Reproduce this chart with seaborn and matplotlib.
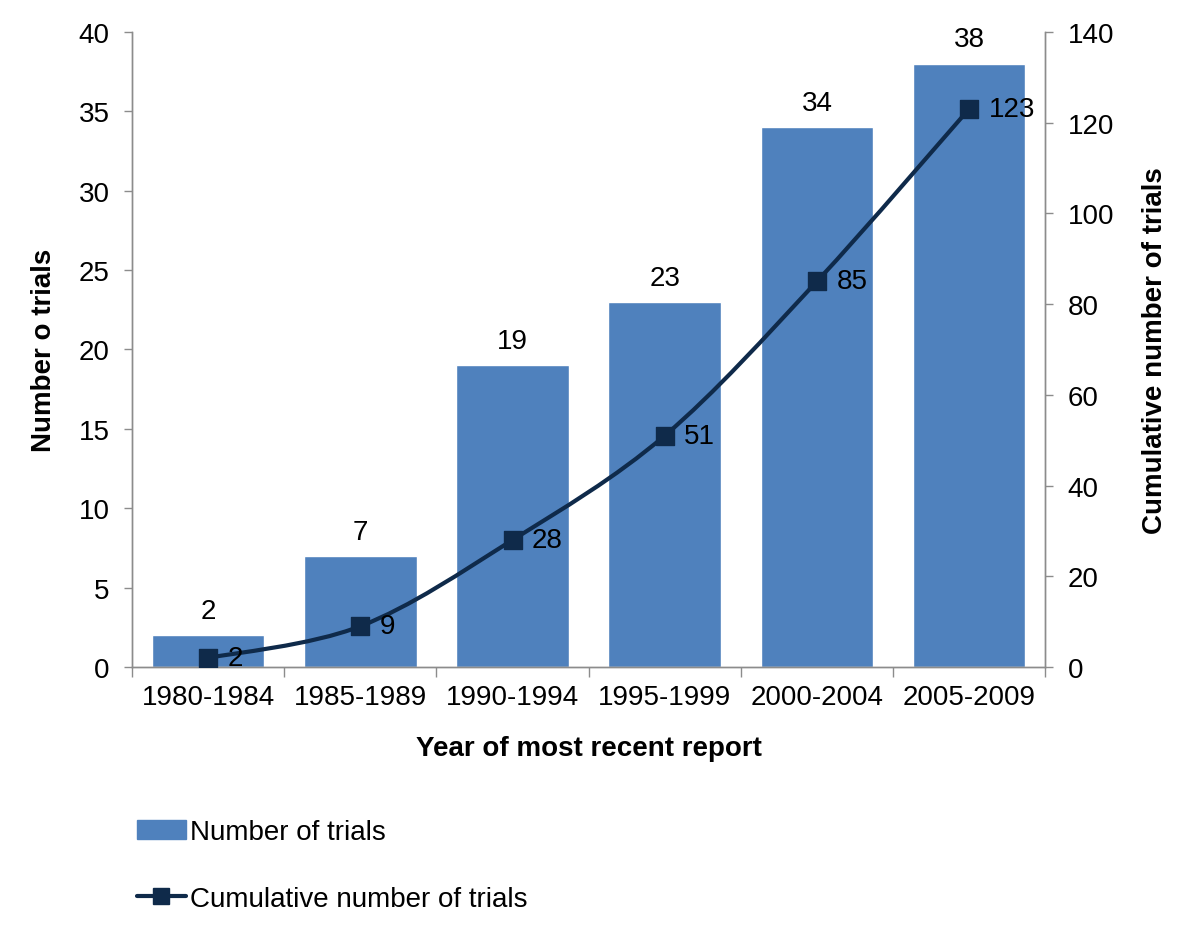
import numpy as np
import pandas as pd
import seaborn as sns
import matplotlib.pyplot as plt
from matplotlib.path import Path
from matplotlib.patches import PathPatch, Patch
import matplotlib.lines as mline

# data
periods = ['1980-1984', '1985-1989', '1990-1994', '1995-1999', '2000-2004', '2005-2009']
n_trials = [2, 7, 19, 23, 34, 38]
cumulative = [2, 9, 28, 51, 85, 123]

bar_color = '#4F81BD'
line_color = '#0F2A4A'
grey = '#8C8C8C'
fs = 20

sns.set_theme(style='white')
plt.rcParams['font.family'] = ['Liberation Sans', 'DejaVu Sans']
plt.rcParams['font.size'] = fs
plt.rcParams['text.color'] = 'black'
plt.rcParams['axes.labelcolor'] = 'black'
plt.rcParams['xtick.color'] = 'black'
plt.rcParams['ytick.color'] = 'black'

df = pd.DataFrame({'period': periods, 'n': n_trials, 'cum': cumulative})

fig = plt.figure(figsize=(12, 9.37), dpi=100)
ax = fig.add_axes([0.11, 0.287, 0.761, 0.678])

sns.barplot(data=df, x='period', y='n', color=bar_color, saturation=1,
            width=0.74, ax=ax)
ax.set_xlim(-0.5, 5.5)
ax.set_ylim(0, 40)
ax.set_yticks(range(0, 41, 5))
for i, v in enumerate(n_trials):
    ax.annotate(str(v), (i, v), xytext=(0, 8), textcoords='offset points',
                ha='center', va='bottom', fontsize=fs)

ax.set_xlabel('Year of most recent report', fontsize=fs, fontweight='bold', labelpad=18)
ax.set_ylabel('Number o trials', fontsize=fs, fontweight='bold', labelpad=16)

# category boundary ticks on x
ax.set_xticks(np.arange(-0.5, 6, 1), minor=True)
ax.tick_params(axis='x', which='major', length=0, pad=12, labelsize=fs)
ax.tick_params(axis='x', which='minor', length=7, color=grey, width=1, bottom=True)
ax.tick_params(axis='y', length=6, color=grey, width=1, left=True, pad=10, labelsize=fs)

# right axis with smoothed cumulative line
ax2 = ax.twinx()
ax2.set_ylim(0, 140)
ax2.set_yticks(range(0, 141, 20))
xs = np.arange(len(cumulative), dtype=float)
ys = np.array(cumulative, dtype=float)
verts = [(xs[0], ys[0])]
codes = [Path.MOVETO]
n = len(xs)
for i in range(n - 1):
    p0 = np.array([xs[max(i - 1, 0)], ys[max(i - 1, 0)]])
    p1 = np.array([xs[i], ys[i]])
    p2 = np.array([xs[i + 1], ys[i + 1]])
    p3 = np.array([xs[min(i + 2, n - 1)], ys[min(i + 2, n - 1)]])
    c1 = p1 + (p2 - p0) / 6
    c2 = p2 - (p3 - p1) / 6
    verts += [tuple(c1), tuple(c2), tuple(p2)]
    codes += [Path.CURVE4] * 3
ax2.add_patch(PathPatch(Path(verts, codes), fill=False, edgecolor=line_color,
                        lw=3, zorder=3))
sns.scatterplot(x=xs, y=ys, marker='s', s=150, color=line_color,
                edgecolor=line_color, ax=ax2, zorder=4, legend=False)
for i, v in enumerate(cumulative):
    ax2.annotate(str(v), (i, v), xytext=(14, 0), textcoords='offset points',
                 ha='left', va='center', fontsize=fs)
ax2.set_ylabel('Cumulative number of trials', fontsize=fs, fontweight='bold', labelpad=20)
ax2.tick_params(axis='y', length=6, color=grey, width=1, right=True, pad=10, labelsize=fs)

for a in (ax, ax2):
    a.spines['top'].set_visible(False)
    for s in ('left', 'right', 'bottom'):
        a.spines[s].set_color(grey)
        a.spines[s].set_linewidth(1)

# legend below the chart
h1 = Patch(facecolor=bar_color, edgecolor=bar_color, label='Number of trials')
h2 = mline.Line2D([], [], color=line_color, lw=3, marker='s', markersize=12,
                  label='Cumulative number of trials')
fig.legend(handles=[h1, h2], loc='lower left', bbox_to_anchor=(0.105, 0.014),
           frameon=False, fontsize=fs, handlelength=1.75, handletextpad=0.15,
           labelspacing=1.45, borderaxespad=0)

fig.savefig('out.png', dpi=100)
